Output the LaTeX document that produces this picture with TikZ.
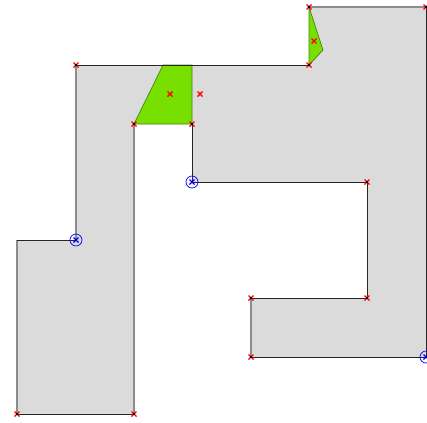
\documentclass[tikz,border=0pt]{standalone}
\usepackage{tikz}
\begin{document}
\begin{tikzpicture}[x=0.025cm,y=-0.025cm]
\tikzset{
  wall/.style={draw=black!85, line width=0.6pt},
  cut/.style={draw=black!45, line width=1.1pt},
  green patch/.style={fill={rgb,255:red,119;green,224;blue,0}, draw={rgb,255:red,70;green,130;blue,20}, line width=0.5pt},
  xmark/.pic={\draw[red, line width=0.9pt] (-2.5,-2.5) -- (2.5,2.5) (-2.5,2.5) -- (2.5,-2.5);
              \fill[black] (-1.2,-1.2) rectangle (1.2,1.2);},
  cmark/.pic={\draw[red, line width=1pt] (-2.5,-2.5) -- (2.5,2.5) (-2.5,2.5) -- (2.5,-2.5);},
  omark/.pic={\draw[blue, line width=0.5pt] (0,0) circle (6);
              \draw[blue, line width=0.9pt] (-2.5,-2.5) -- (2.5,2.5) (-2.5,2.5) -- (2.5,-2.5);
              \fill[blue!70!black] (-1.2,-1.2) rectangle (1.2,1.2);}
}
\useasboundingbox (0,0) rectangle (427,422);

% polygon corners
\coordinate (a) at (309,7);
\coordinate (b) at (426,7);
\coordinate (c) at (426,357);
\coordinate (d) at (251,357);
\coordinate (e) at (251,298);
\coordinate (f) at (367,298);
\coordinate (g) at (367,182);
\coordinate (h) at (192,182);
\coordinate (i) at (192,124);
\coordinate (j) at (134,124);
\coordinate (k) at (134,414);
\coordinate (l) at (17,414);
\coordinate (m) at (17,240);
\coordinate (n) at (76,240);
\coordinate (o) at (76,65);
\coordinate (p) at (309,65);

% green pieces
\coordinate (q1) at (163,65);
\coordinate (q2) at (192,65);
\coordinate (r1) at (323,50);

\fill[black!14] (a) -- (b) -- (c) -- (d) -- (e) -- (f) -- (g) -- (h) -- (i) -- (j)
  -- (k) -- (l) -- (m) -- (n) -- (o) -- (p) -- cycle;

\path[green patch] (q1) -- (q2) -- (i) -- (j) -- cycle;
\path[green patch] (a) -- (r1) -- (p) -- cycle;

% edges
\draw[cut] (a) -- (b);
\draw[cut] (d) -- (e);
\draw[cut] (j) -- (k);
\draw[cut] (l) -- (m);
\draw[cut] (n) -- (o);
\draw[wall] (b) -- (c) -- (d);
\draw[wall] (e) -- (f) -- (g) -- (h) -- (i);
\draw[wall] (k) -- (l);
\draw[wall] (m) -- (n);
\draw[wall] (o) -- (p);

% markers
\foreach \v in {a,b,d,e,f,g,i,j,k,l,o,p}
  \pic at (\v) {xmark};
\pic at (170,94) {cmark};
\pic at (200,94) {cmark};
\pic at (314,41) {cmark};
\foreach \v in {c,h,n}
  \pic at (\v) {omark};
\end{tikzpicture}
\end{document}
